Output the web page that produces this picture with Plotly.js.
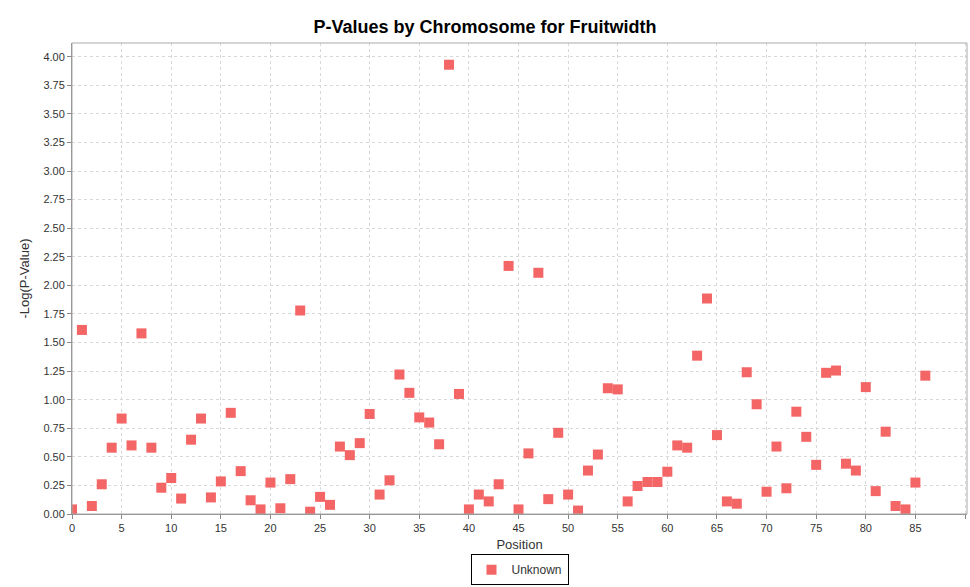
<!DOCTYPE html>
<html>
<head>
<meta charset="utf-8">
<script src="https://cdn.plot.ly/plotly-3.0.1.min.js"></script>
<style>html,body{margin:0;padding:0;background:#fff;}#chart{width:970px;height:587px;}</style>
</head>
<body>
<div id="chart"></div>
<script>
const positions = [0,1,2,3,4,5,6,7,8,9,10,11,12,13,14,15,16,17,18,19,20,21,22,23,24,25,26,27,28,29,30,31,32,33,34,35,36,37,38,39,40,41,42,43,44,45,46,47,48,49,50,51,52,53,54,55,56,57,58,59,60,61,62,63,64,65,66,67,68,69,70,71,72,73,74,75,76,77,78,79,80,81,82,83,84,85,86];
const negLogP = [0.04,1.61,0.07,0.26,0.58,0.835,0.60,1.58,0.58,0.23,0.315,0.135,0.65,0.835,0.145,0.285,0.885,0.375,0.12,0.04,0.275,0.05,0.305,1.78,0.02,0.15,0.08,
0.59,0.515,0.62,0.875,0.17,0.295,1.22,1.06,0.845,0.80,0.61,3.93,1.05,0.04,0.17,0.11,0.26,2.17,0.04,0.53,2.11,0.13,0.71,0.17,0.03,0.38,0.52,1.10,1.09,0.11,0.245,
0.28,0.28,0.37,0.60,0.58,1.385,1.885,0.69,0.11,0.09,1.24,0.96,0.195,0.59,0.225,0.895,0.675,0.43,1.235,1.255,0.44,0.38,1.11,0.20,0.72,0.07,0.04,0.275,1.21];
const seriesName = "Unknown";

const trace = {
  x: positions, y: negLogP, type: 'scatter', mode: 'markers', name: seriesName,
  marker: {symbol: 'square', size: 10, color: '#f46666', line: {width: 0}},
  showlegend: true
};
const gridStyle = {showgrid: true, gridcolor: '#d8d8d8', griddash: 'dot', gridwidth: 1};
const layout = {
  width: 970, height: 587,
  margin: {l: 72, r: 3, t: 43, b: 73, autoexpand: false},
  paper_bgcolor: '#ffffff', plot_bgcolor: '#ffffff',
  font: {family: 'Liberation Sans, Arial, sans-serif', color: '#333333', size: 11},
  title: {text: '<b>P-Values by Chromosome for Fruitwidth</b>', x: 0.5, xanchor: 'center', y: 0.955, yanchor: 'middle',
    font: {size: 18, color: '#000000', family: 'Liberation Sans, Arial, sans-serif'}},
  xaxis: Object.assign({
    range: [0, 90.2], tick0: 0, dtick: 5, ticks: 'outside', ticklen: 4, tickcolor: '#888888',
    showline: true, linecolor: '#888888', linewidth: 1, zeroline: false, mirror: false,
    tickfont: {size: 11, color: '#333333'},
    title: {text: 'Position', font: {size: 13, color: '#333333'}, standoff: 6}
  }, gridStyle),
  yaxis: Object.assign({
    range: [0, 4.12], tick0: 0, dtick: 0.25, tickformat: '.2f', ticks: 'outside', ticklen: 4, tickcolor: '#888888',
    showline: true, linecolor: '#888888', linewidth: 1, zeroline: false,
    tickfont: {size: 11, color: '#333333'},
    title: {text: '-Log(P-Value)', font: {size: 13, color: '#333333'}, standoff: 10}
  }, gridStyle),
  shapes: [{type: 'rect', xref: 'paper', yref: 'paper', x0: 0, x1: 1, y0: 0, y1: 1, line: {color: '#aaaaaa', width: 1}}],
  legend: {orientation: 'h', x: 0.5, xanchor: 'center', yref: 'container', y: 0.003, yanchor: 'bottom',
    bordercolor: '#000000', borderwidth: 1, bgcolor: '#ffffff', font: {size: 12, color: '#333333'},
    itemwidth: 30, tracegroupgap: 0}
};
Plotly.newPlot('chart', [trace], layout, {displayModeBar: false, staticPlot: true});
</script>
</body>
</html>
